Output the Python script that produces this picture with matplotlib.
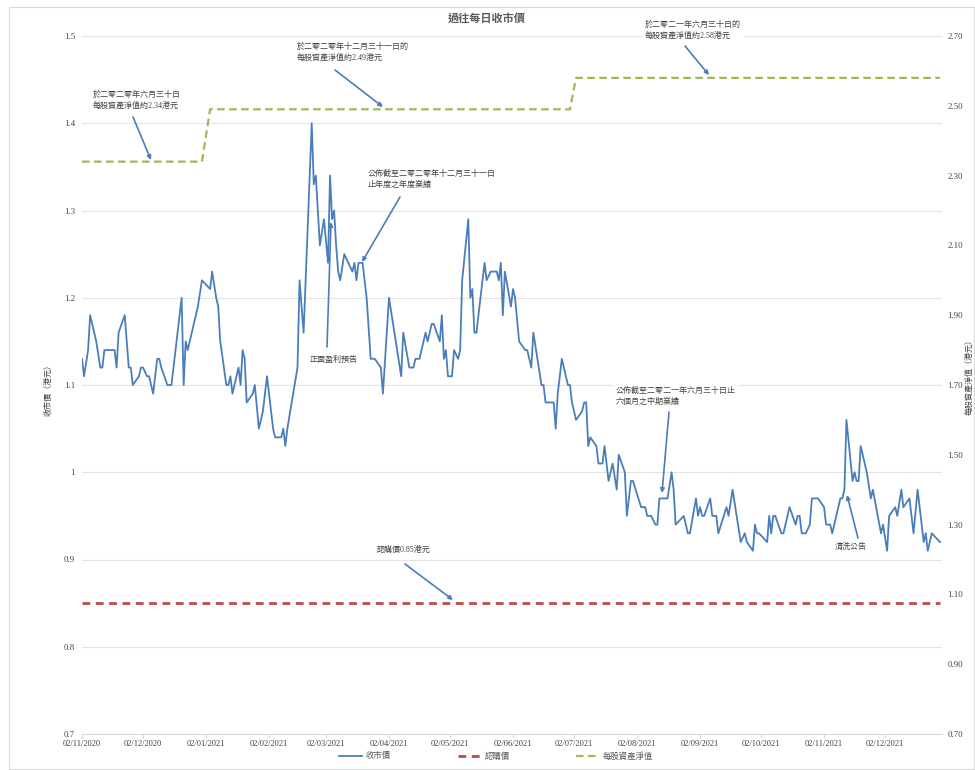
import pandas as pd
import matplotlib
matplotlib.use('Agg')
import matplotlib.pyplot as plt
import matplotlib.dates as mdates
from matplotlib.patches import Rectangle

plt.rcParams['font.family'] = ['Liberation Serif', 'Noto Sans CJK TC']

# 收市價: days since 02/11/2020 and closing price (HK$)
start = pd.Timestamp('2020-11-02')
day_offset = [
    0, 1, 3, 4, 7, 9, 10, 11, 16, 17, 18, 21, 23, 24, 25, 28, 29, 30, 32, 33,
    35, 37, 38, 39, 42, 44, 49, 50, 51, 52, 57, 59, 63, 64, 66, 67, 68, 71, 72, 73,
    74, 77, 78, 79, 80, 81, 84, 85, 87, 89, 91, 94, 95, 98, 99, 100, 101, 106, 107, 109,
    113, 114, 115, 117, 119, 121, 122, 123, 124, 125, 126, 127, 129, 131, 133, 134, 135, 136, 138, 140,
    142, 144, 147, 148, 151, 157, 158, 161, 163, 164, 166, 169, 170, 172, 173, 176, 177, 178, 179, 180,
    182, 183, 185, 186, 187, 190, 191, 192, 193, 194, 198, 199, 201, 204, 205, 206, 207, 208, 211, 212,
    213, 215, 218, 219, 221, 222, 226, 227, 228, 232, 233, 234, 236, 239, 240, 241, 243, 246, 247, 248,
    249, 250, 253, 254, 256, 257, 259, 261, 263, 264, 267, 268, 270, 271, 275, 277, 278, 280, 282, 283,
    284, 288, 290, 291, 292, 296, 298, 299, 302, 303, 304, 305, 306, 309, 310, 312, 313, 317, 318, 320,
    322, 324, 326, 327, 330, 331, 332, 333, 337, 338, 339, 340, 341, 344, 345, 348, 351, 352, 353, 354,
    356, 358, 359, 362, 365, 366, 368, 369, 373, 374, 375, 376, 379, 380, 381, 382, 383, 386, 388, 389,
    393, 394, 396, 397, 400, 401, 403, 404, 407, 409, 411, 414, 415, 416, 418, 422,
]
close_price = [
    1.13, 1.11, 1.14, 1.18, 1.15, 1.12, 1.12, 1.14, 1.14, 1.12, 1.16, 1.18, 1.12, 1.12, 1.10, 1.11, 1.12, 1.12, 1.11, 1.11,
    1.09, 1.13, 1.13, 1.12, 1.10, 1.10, 1.20, 1.10, 1.15, 1.14, 1.19, 1.22, 1.21, 1.23, 1.20, 1.19, 1.15, 1.10, 1.10, 1.11,
    1.09, 1.12, 1.10, 1.14, 1.13, 1.08, 1.09, 1.10, 1.05, 1.07, 1.11, 1.05, 1.04, 1.04, 1.05, 1.03, 1.05, 1.12, 1.22, 1.16,
    1.40, 1.33, 1.34, 1.26, 1.29, 1.24, 1.34, 1.29, 1.30, 1.26, 1.23, 1.22, 1.25, 1.24, 1.23, 1.24, 1.22, 1.24, 1.24, 1.20,
    1.13, 1.13, 1.12, 1.09, 1.20, 1.11, 1.16, 1.12, 1.12, 1.13, 1.13, 1.16, 1.15, 1.17, 1.17, 1.15, 1.18, 1.13, 1.14, 1.11,
    1.11, 1.14, 1.13, 1.14, 1.22, 1.29, 1.20, 1.21, 1.16, 1.16, 1.24, 1.22, 1.23, 1.23, 1.22, 1.24, 1.18, 1.23, 1.19, 1.21,
    1.20, 1.15, 1.14, 1.14, 1.12, 1.16, 1.10, 1.10, 1.08, 1.08, 1.05, 1.09, 1.13, 1.10, 1.10, 1.08, 1.06, 1.07, 1.08, 1.08,
    1.03, 1.04, 1.03, 1.01, 1.01, 1.03, 0.99, 1.01, 0.98, 1.02, 1.00, 0.95, 0.99, 0.99, 0.96, 0.96, 0.95, 0.95, 0.94, 0.94,
    0.97, 0.97, 1.00, 0.98, 0.94, 0.95, 0.93, 0.93, 0.97, 0.95, 0.96, 0.95, 0.95, 0.97, 0.95, 0.95, 0.93, 0.96, 0.95, 0.98,
    0.95, 0.92, 0.93, 0.92, 0.91, 0.94, 0.93, 0.93, 0.92, 0.95, 0.93, 0.95, 0.95, 0.93, 0.93, 0.96, 0.94, 0.95, 0.95, 0.93,
    0.93, 0.94, 0.97, 0.97, 0.96, 0.94, 0.94, 0.93, 0.97, 0.97, 0.98, 1.06, 0.99, 1.00, 0.99, 0.99, 1.03, 1.00, 0.97, 0.98,
    0.93, 0.94, 0.91, 0.95, 0.96, 0.95, 0.98, 0.96, 0.97, 0.93, 0.98, 0.92, 0.93, 0.91, 0.93, 0.92,
]
dates = start + pd.to_timedelta(day_offset, unit='D')

# 每股資產淨值 (right axis)
nav_dates = pd.to_datetime(['2020-11-02', '2020-12-31', '2021-01-04',
                            '2021-06-30', '2021-07-03', '2021-12-29'])
nav_values = [2.34, 2.34, 2.49, 2.49, 2.58, 2.58]

# 認購價
sub_dates = pd.to_datetime(['2020-11-02', '2021-12-29'])
sub_price = [0.85, 0.85]

blue = '#4a7ebb'
red = '#be4b48'
green = '#9bbb59'
txt = '#404040'

fig = plt.figure(figsize=(9.75, 7.7), dpi=100)
ax = fig.add_axes([82 / 975, 1 - 734 / 770, 860 / 975, 698 / 770])
ax2 = ax.twinx()

l1, = ax.plot(dates, close_price, color=blue, lw=1.3, label='收市價', zorder=3)
l2, = ax.plot(sub_dates, sub_price, color=red, lw=2.0, dashes=(2.8, 2.0), label='認購價')
l3, = ax2.plot(nav_dates, nav_values, color=green, lw=1.6, dashes=(3.4, 2.0), label='每股資產淨值')

ax.set_xlim(start, start + pd.Timedelta(days=423))
ax.set_ylim(0.7, 1.5)
ax.set_yticks([0.7, 0.8, 0.9, 1.0, 1.1, 1.2, 1.3, 1.4, 1.5])
ax.set_yticklabels(['0.7', '0.8', '0.9', '1', '1.1', '1.2', '1.3', '1.4', '1.5'])
ax2.set_ylim(0.7, 2.7)
ax2.set_yticks([0.7, 0.9, 1.1, 1.3, 1.5, 1.7, 1.9, 2.1, 2.3, 2.5, 2.7])
ax2.set_yticklabels(['%.2f' % v for v in ax2.get_yticks()])

ax.xaxis.set_major_locator(mdates.MonthLocator(bymonthday=2))
ax.xaxis.set_major_formatter(mdates.DateFormatter('%d/%m/%Y'))

ax.grid(axis='y', color='#e4e4e4', lw=0.8)
ax.set_axisbelow(True)
for a in (ax, ax2):
    for s in ('top', 'left', 'right'):
        a.spines[s].set_visible(False)
    a.spines['bottom'].set_color('#d9d9d9')
ax2.spines['bottom'].set_visible(False)
ax.tick_params(axis='x', length=3, color='#d9d9d9', labelsize=6, pad=1.5, labelcolor=txt)
ax.tick_params(axis='y', length=0, labelsize=6.3, pad=5, labelcolor=txt)
ax2.tick_params(axis='y', length=0, labelsize=6.3, pad=4, labelcolor=txt)

fig.text(487 / 975, 1 - 18 / 770, '過往每日收市價', ha='center', va='center',
         fontsize=8, fontweight='bold', color='#595959')
fig.text(48 / 975, 1 - 388 / 770, '收市價（港元）', rotation=90, ha='center', va='center',
         fontsize=5.8, color=txt)
fig.text(969 / 975, 1 - 375 / 770, '每股資產淨值（港元）', rotation=90, ha='center', va='center',
         fontsize=5.8, color=txt)


def fr(px, py):
    return ((px - 82) / 860, (734 - py) / 698)


notes = [
    ('於二零二零年六月三十日\n每股資產淨值約2.34港元', (93, 91), False),
    ('於二零二零年十二月三十一日的\n每股資產淨值約2.49港元', (297, 43), False),
    ('於二零二一年六月三十日的\n每股資產淨值約2.58港元', (645, 21), True),
    ('公佈截至二零二零年十二月三十一日\n止年度之年度業績', (368, 170), False),
    ('正面盈利預告', (310, 356), False),
    ('公佈截至二零二一年六月三十日止\n六個月之中期業績', (616, 387), True),
    ('清洗公告', (835, 543), True),
    ('認購價0.85港元', (377, 546), True),
]
for s, (px, py), boxed in notes:
    kw = {}
    if boxed:
        kw['bbox'] = dict(facecolor='white', edgecolor='none', pad=2.5)
    ax2.text(*fr(px, py), s, transform=ax2.transAxes, ha='left', va='top',
             fontsize=5.8, color=txt, linespacing=1.45, zorder=5, **kw)

arrows = [
    ((133, 117), (151, 160)),
    ((335, 70), (383, 107)),
    ((685, 46), (709, 75)),
    ((400, 197), (362, 262)),
    ((327, 347), (331, 222)),
    ((669, 412), (662, 493)),
    ((858, 538), (847, 495)),
    ((405, 564), (453, 600)),
]
for tail, tip in arrows:
    ax2.annotate('', xy=fr(*tip), xycoords='axes fraction',
                 xytext=fr(*tail), textcoords='axes fraction',
                 arrowprops=dict(arrowstyle='-|>', color=blue, lw=1.2,
                                 mutation_scale=6, shrinkA=0, shrinkB=0),
                 zorder=6)

leg = fig.legend([l1, l2, l3], ['收市價', '認購價', '每股資產淨值'], loc='center',
                 bbox_to_anchor=(0.509, 0.018), ncol=3, frameon=False, fontsize=6,
                 handlelength=2.7, columnspacing=8, handletextpad=0.5)
for t in leg.get_texts():
    t.set_color('#595959')

fig.patches.append(Rectangle((9 / 975, 1 / 770), 965 / 975, 762 / 770, transform=fig.transFigure,
                             fill=False, edgecolor='#d9d9d9', lw=0.8))

fig.savefig('out.png', dpi=100)
